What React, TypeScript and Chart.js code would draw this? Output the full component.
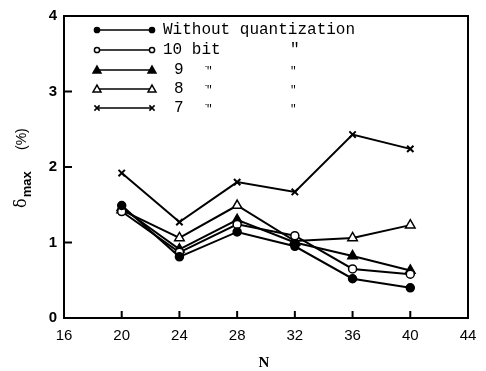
import React, { useEffect, useRef } from "react";
import { Chart, registerables } from "chart.js";

Chart.register(...registerables);

const nValues = [20, 24, 28, 32, 36, 40];
const withoutQuant = [1.49, 0.81, 1.14, 0.95, 0.52, 0.4];
const bit10 = [1.41, 0.87, 1.24, 1.09, 0.65, 0.58];
const bit9 = [1.46, 0.91, 1.3, 1.0, 0.82, 0.63];
const bit8 = [1.43, 1.06, 1.49, 1.02, 1.06, 1.23];
const bit7 = [1.92, 1.27, 1.8, 1.67, 2.43, 2.24];
const xTickValues = [16, 20, 24, 28, 32, 36, 40, 44];
const yTickValues = [0, 1, 2, 3, 4];

type Marker = { style: string; fill: boolean };
const markers: Marker[] = [
  { style: "circle", fill: true },
  { style: "circle", fill: false },
  { style: "triangle", fill: true },
  { style: "triangle", fill: false },
  { style: "crossRot", fill: false },
];
const seriesValues = [withoutQuant, bit10, bit9, bit8, bit7];
const seriesNames = ["Without quantization", "10 bit", "9 bit", "8 bit", "7 bit"];

function drawMarker(ctx: CanvasRenderingContext2D, m: Marker, x: number, y: number, r: number) {
  ctx.save();
  ctx.strokeStyle = "#000";
  ctx.fillStyle = m.fill ? "#000" : "#fff";
  ctx.lineWidth = 1.5;
  ctx.beginPath();
  if (m.style === "circle") {
    ctx.arc(x, y, r, 0, Math.PI * 2);
    ctx.fill();
    ctx.stroke();
  } else if (m.style === "triangle") {
    const h = r * 1.2;
    ctx.moveTo(x, y - h);
    ctx.lineTo(x + h, y + h * 0.75);
    ctx.lineTo(x - h, y + h * 0.75);
    ctx.closePath();
    ctx.fill();
    ctx.stroke();
  } else {
    ctx.moveTo(x - r, y - r);
    ctx.lineTo(x + r, y + r);
    ctx.moveTo(x + r, y - r);
    ctx.lineTo(x - r, y + r);
    ctx.stroke();
  }
  ctx.restore();
}

const overlayPlugin = {
  id: "overlay",
  afterDraw(chart: any) {
    const ctx: CanvasRenderingContext2D = chart.ctx;
    const a = chart.chartArea;
    const xs = chart.scales.x;
    const ys = chart.scales.y;
    ctx.save();
    ctx.strokeStyle = "#000";
    ctx.lineWidth = 2;
    ctx.strokeRect(a.left, a.top, a.right - a.left, a.bottom - a.top);
    ctx.beginPath();
    xTickValues.forEach((v) => {
      const px = xs.getPixelForValue(v);
      ctx.moveTo(px, a.bottom);
      ctx.lineTo(px, a.bottom - 7);
    });
    yTickValues.forEach((v) => {
      const py = ys.getPixelForValue(v);
      ctx.moveTo(a.left, py);
      ctx.lineTo(a.left + 8, py);
    });
    ctx.stroke();

    // legend
    const rowY = [30, 50, 70, 89, 108];
    ctx.fillStyle = "#000";
    ctx.font = "16px 'Liberation Mono'";
    ctx.textBaseline = "middle";
    markers.forEach((m, i) => {
      const y = rowY[i];
      ctx.beginPath();
      ctx.lineWidth = 1.5;
      ctx.moveTo(97, y);
      ctx.lineTo(152, y);
      ctx.stroke();
      const r = m.style === "triangle" ? 3.3 : 2.6;
      drawMarker(ctx, m, 97, y, r);
      drawMarker(ctx, m, 152, y, r);
    });
    ctx.fillStyle = "#000";
    ctx.textAlign = "left";
    ctx.fillText("Without quantization", 163, rowY[0]);
    ctx.fillText("10 bit", 163, rowY[1]);
    ctx.fillText("\"", 290, rowY[1]);
    ["9", "8", "7"].forEach((t, k) => {
      const y = rowY[2 + k];
      ctx.fillText(t, 174, y);
      ctx.font = "11px 'Liberation Mono'";
      ctx.fillText("\u0307\"", 206, y + 1);
      ctx.fillText("\"", 290, y + 1);
      ctx.font = "16px 'Liberation Mono'";
    });

    // x title
    ctx.font = "bold 15px 'Liberation Serif'";
    ctx.textAlign = "center";
    ctx.textBaseline = "middle";
    ctx.fillText("N", 264, 363);

    // y title
    ctx.save();
    ctx.translate(26, 208);
    ctx.rotate(-Math.PI / 2);
    ctx.textAlign = "left";
    ctx.textBaseline = "alphabetic";
    ctx.font = "16px 'DejaVu Serif'";
    ctx.fillText("\u03b4", 0, 0);
    const w1 = ctx.measureText("\u03b4").width;
    ctx.font = "bold 13px 'Liberation Sans'";
    ctx.fillText("max", w1 + 1, 5);
    ctx.font = "14px 'Liberation Sans'";
    ctx.fillText("(%)", 58, 0);
    ctx.restore();

    ctx.restore();
  },
};

export default function App() {
  const ref = useRef<HTMLCanvasElement | null>(null);
  useEffect(() => {
    if (!ref.current) return;
    const datasets = seriesValues.map((vals, i) => {
      const m = markers[i];
      return {
        label: seriesNames[i],
        data: nValues.map((n, j) => ({ x: n, y: vals[j] })),
        borderColor: "#000",
        borderWidth: 2,
        backgroundColor: m.fill ? "#000" : "#fff",
        pointStyle: m.style,
        pointRadius: m.style === "triangle" ? 5.5 : m.style === "crossRot" ? 4.5 : 4,
        pointBorderWidth: m.style === "crossRot" ? 2 : 1.5,
        pointBorderColor: "#000",
        pointBackgroundColor: m.fill ? "#000" : "#fff",
        fill: false,
        tension: 0,
      };
    });
    const chart = new Chart(ref.current, {
      type: "line",
      data: { datasets },
      options: {
        animation: false,
        responsive: false,
        maintainAspectRatio: false,
        layout: { padding: { left: 0, top: 14, right: 18, bottom: 0 } },
        plugins: { legend: { display: false }, tooltip: { enabled: false } },
        scales: {
          x: {
            type: "linear",
            min: 16,
            max: 44,
            afterBuildTicks: (s: any) => {
              s.ticks = xTickValues.map((v) => ({ value: v }));
            },
            afterFit: (s: any) => {
              s.height = 53;
            },
            grid: { display: true, drawOnChartArea: false, drawTicks: false },
            border: { display: false },
            ticks: {
              color: "#000",
              padding: 9,
              font: { family: "'Liberation Sans'", size: 15 },
            },
          },
          y: {
            type: "linear",
            min: 0,
            max: 4,
            afterBuildTicks: (s: any) => {
              s.ticks = yTickValues.map((v) => ({ value: v }));
            },
            afterFit: (s: any) => {
              s.width = 64;
            },
            grid: { display: true, drawOnChartArea: false, drawTicks: false },
            border: { display: false },
            ticks: {
              color: "#000",
              padding: 7,
              font: { family: "'Liberation Sans'", size: 15, weight: "bold" },
            },
          },
        },
      },
      plugins: [overlayPlugin],
    } as any);
    return () => chart.destroy();
  }, []);
  return (
    <div style={{ position: "fixed", left: 0, top: 0, width: 486, height: 371, background: "#fff" }}>
      <canvas ref={ref} width={486} height={371} style={{ width: 486, height: 371, display: "block" }} />
    </div>
  );
}
